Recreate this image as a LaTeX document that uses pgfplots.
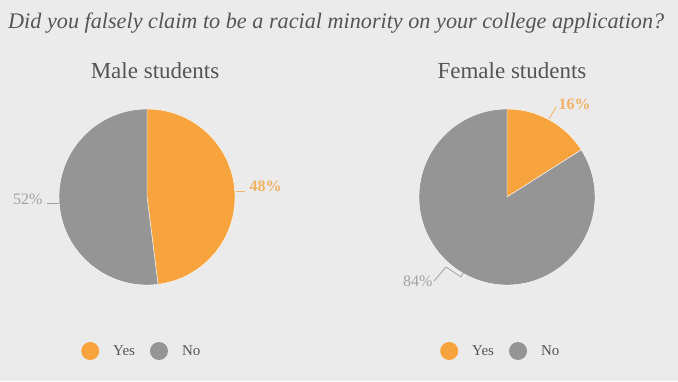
\documentclass[border=0pt]{standalone}
\usepackage{pgfplots}
\usepackage{pgfplotstable}
\pgfplotsset{compat=1.18}
\usepackage{fontspec}
\setmainfont{Liberation Serif}
\definecolor{bg}{HTML}{EBEBEB}
\definecolor{orangeC}{HTML}{F8A43E}
\definecolor{grayC}{HTML}{959595}
\definecolor{txt}{HTML}{555555}
\definecolor{lblO}{HTML}{F2B262}
\definecolor{lblG}{HTML}{A3A3A3}

\pgfplotstableread{
group yes no
Male 48 52
Female 16 84
}\pies
\pgfplotstablegetelem{0}{yes}\of\pies \edef\myes{\pgfplotsretval}
\pgfplotstablegetelem{1}{yes}\of\pies \edef\fyes{\pgfplotsretval}

\pgfplotsset{
  circlelegend/.style={legend image code/.code={\fill[##1,draw=none] (0pt,0pt) circle (9pt);}},
  pieaxis/.style={width=678pt,height=381pt,scale only axis,
    xmin=0,xmax=678,ymin=0,ymax=381,y dir=reverse,
    axis lines=none,clip=false,at={(0,0)},anchor=south west,
    legend style={draw=none,fill=none,legend columns=2,inner sep=0pt,
      font=\fontsize{15}{17}\selectfont,text=txt,
      nodes={inner sep=0pt},
      /tikz/every odd column/.append style={column sep=14pt},
      /tikz/every even column/.append style={column sep=15pt}}},
}

\begin{document}
\begin{tikzpicture}
\begin{axis}[pieaxis,legend style={at={(axis cs:81,351)},anchor=west}]
\fill[bg] (axis cs:0,0) rectangle (axis cs:678,381);
\node[anchor=base west,inner sep=0pt,text=txt,font=\fontsize{22.2}{25}\selectfont\itshape] at (axis cs:8,28) {Did you falsely claim to be a racial minority on your college application?};
\node[anchor=base,text=txt,font=\fontsize{23}{26}\selectfont] at (axis cs:155,78) {Male students};
% male pie
\fill[orangeC,draw=white,line width=0.4pt] (axis cs:147,197) -- ++(90:88pt) arc[start angle=90,end angle={90-3.6*\myes},radius=88pt] -- cycle;
\fill[grayC,draw=white,line width=0.4pt] (axis cs:147,197) -- ++({90-3.6*\myes}:88pt) arc[start angle={90-3.6*\myes},end angle=-270,radius=88pt] -- cycle;
\draw[lblO,line width=0.8pt] (axis cs:236,191.5) -- (axis cs:245,191.5);
\node[anchor=base west,text=lblO,font=\fontsize{16}{18}\selectfont\bfseries] at (axis cs:246,191) {48\%};
\draw[lblG,line width=0.8pt] (axis cs:47,203) -- (axis cs:59,203);
\node[anchor=base east,text=lblG,font=\fontsize{16}{18}\selectfont] at (axis cs:46,204) {52\%};
\addlegendimage{circlelegend,fill=orangeC}
\addlegendentry{Yes}
\addlegendimage{circlelegend,fill=grayC}
\addlegendentry{No}
\end{axis}
\begin{axis}[pieaxis,legend style={at={(axis cs:440,351)},anchor=west}]
\node[anchor=base,text=txt,font=\fontsize{23}{26}\selectfont] at (axis cs:512,78) {Female students};
\fill[orangeC,draw=white,line width=0.4pt] (axis cs:507,197) -- ++(90:88pt) arc[start angle=90,end angle={90-3.6*\fyes},radius=88pt] -- cycle;
\fill[grayC,draw=white,line width=0.4pt] (axis cs:507,197) -- ++({90-3.6*\fyes}:88pt) arc[start angle={90-3.6*\fyes},end angle=-270,radius=88pt] -- cycle;
\draw[lblO,line width=0.8pt] (axis cs:549,119) -- (axis cs:556,107);
\node[anchor=base west,text=lblO,font=\fontsize{16}{18}\selectfont\bfseries] at (axis cs:555,109) {16\%};
\draw[lblG,line width=0.8pt] (axis cs:434,281) -- (axis cs:446,267) -- (axis cs:461,277) -- (axis cs:463,273);
\node[anchor=base east,text=lblG,font=\fontsize{16}{18}\selectfont] at (axis cs:436,286) {84\%};
\addlegendimage{circlelegend,fill=orangeC}
\addlegendentry{Yes}
\addlegendimage{circlelegend,fill=grayC}
\addlegendentry{No}
\end{axis}
\end{tikzpicture}
\end{document}
